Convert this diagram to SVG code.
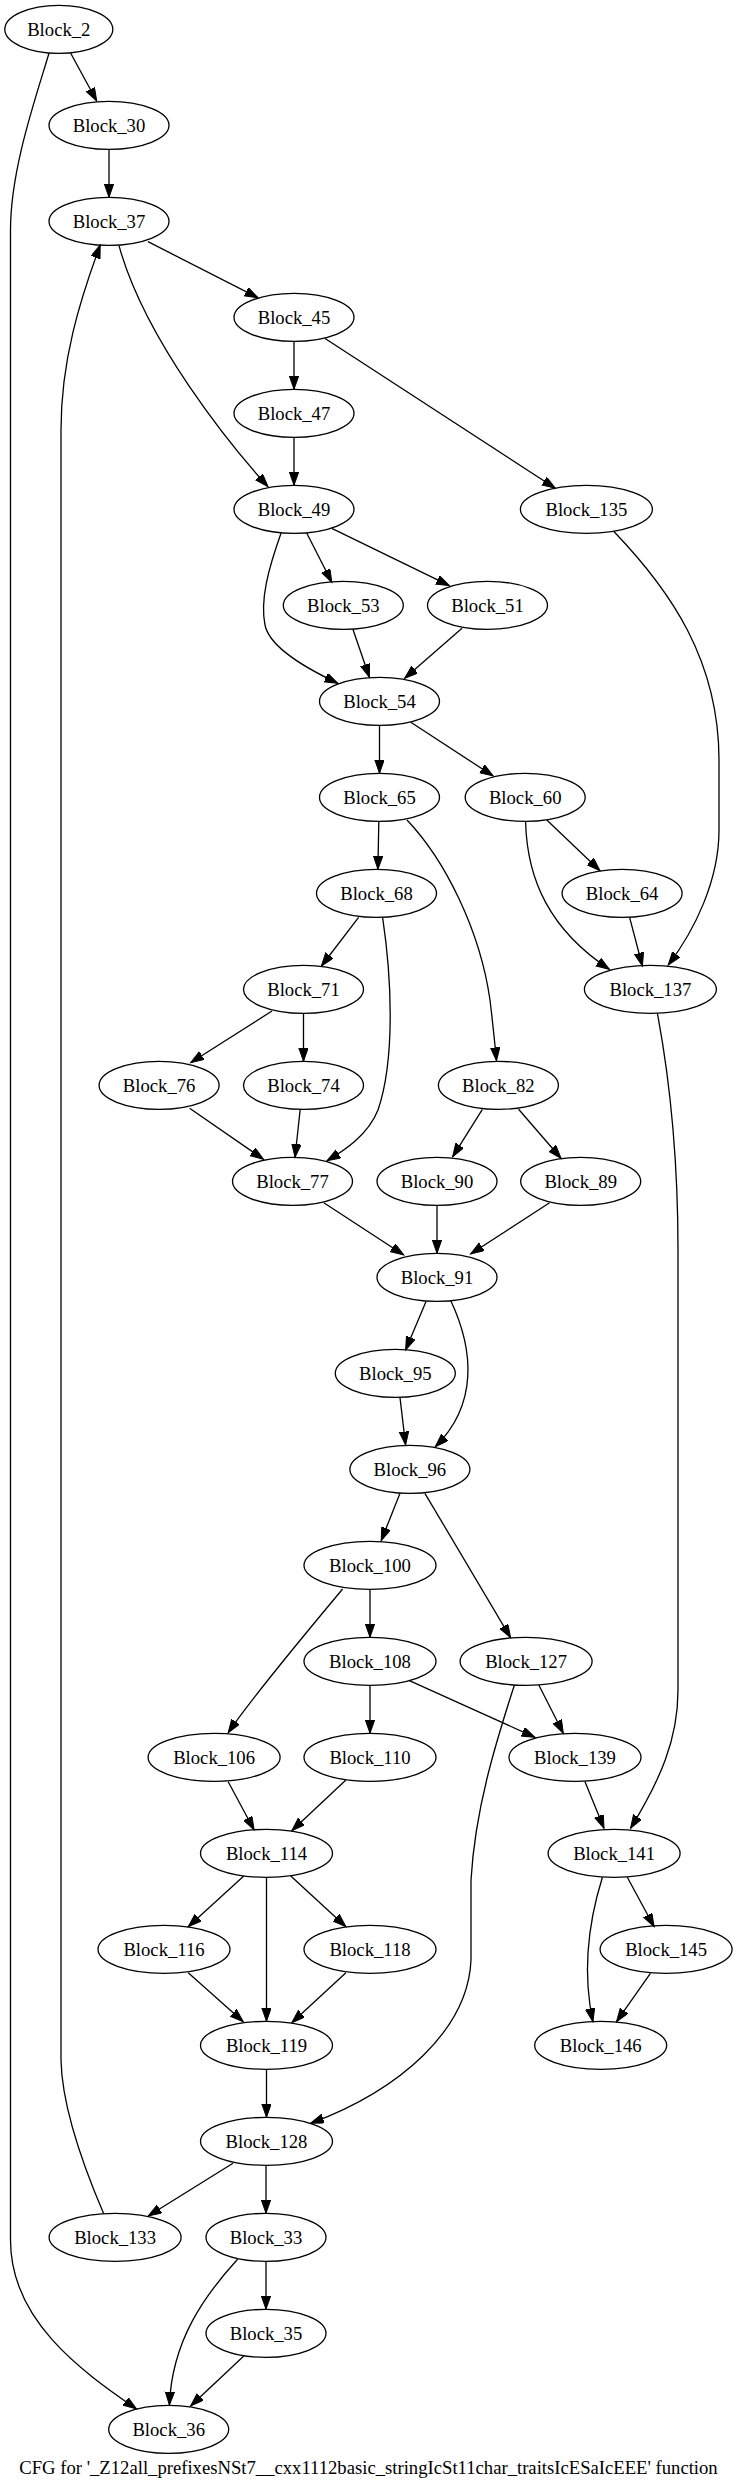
<svg xmlns="http://www.w3.org/2000/svg" width="737" height="2489" viewBox="0 0 737 2489">
<style>
.n ellipse{fill:none;stroke:#000;stroke-width:1.3}
.n text{font-family:"Liberation Serif","Times New Roman",serif;font-size:18.67px;text-anchor:middle;fill:#000}
#edges path{fill:none;stroke:#000;stroke-width:1.3;marker-end:url(#ah)}
.cap{font-family:"Liberation Serif","Times New Roman",serif;font-size:18.67px;text-anchor:middle;fill:#000}
</style>
<defs>
<marker id="ah" markerUnits="userSpaceOnUse" markerWidth="16" markerHeight="12" refX="13.3" refY="4.67" orient="auto">
<path d="M0,0 L13.3,4.67 L0,9.33 z" fill="#000" stroke="#000" stroke-width="1"/>
</marker>
</defs>
<rect width="737" height="2489" fill="#fff"/>
<g id="edges">
<path d="M70.7,53.3 L96.7,101"/>
<path d="M49,53.3 C35,100 10.5,170 10.5,230 L10.5,2240 C10.5,2320 80,2370 136.5,2409"/>
<path d="M109,149.3 L109,197.3"/>
<path d="M148,241.7 L258,297.7"/>
<path d="M119,245.7 C145,340 230,445 268,486.7"/>
<path d="M294,341.3 L294,389.3"/>
<path d="M324.7,338.3 L555.3,488.3"/>
<path d="M294,437.3 L294,485.3"/>
<path d="M306.8,533.3 L331.8,582.3"/>
<path d="M331.8,528.3 L449.4,585.7"/>
<path d="M281,533.3 C268,570 260,600 265,625 C270,650 316,673 337.9,683.3"/>
<path d="M352.9,629.3 L369.4,677.3"/>
<path d="M462,628.3 L404.7,678.3"/>
<path d="M379.5,725.3 L379.5,773.3"/>
<path d="M410.8,722.3 L493.2,776"/>
<path d="M614.1,531.7 C670,590 719,660 719,760 L719,830 C719,880 695,930 668.2,965"/>
<path d="M378.8,821.7 L377.9,869.3"/>
<path d="M407,820 C445,860 480,930 490,1000 C493,1025 495,1045 496.5,1060.7"/>
<path d="M546.8,820 L600,870.7"/>
<path d="M525.6,821.7 C527,880 550,930 609.4,969.3"/>
<path d="M629.6,917.3 L642.4,966"/>
<path d="M358.6,917.3 L321.4,966"/>
<path d="M382.6,917.3 C392,980 395,1060 378,1110 C368,1135 345,1150 327,1160.7"/>
<path d="M272,1011 L190.6,1062.7"/>
<path d="M303.5,1013.3 L303.5,1061.3"/>
<path d="M189.6,1108.3 L263.5,1159.3"/>
<path d="M300.2,1109.3 L295,1157.3"/>
<path d="M482.4,1109.3 L452.7,1156.7"/>
<path d="M518.6,1109.3 L561,1158.3"/>
<path d="M657.4,1013.3 C668,1070 678,1150 678,1250 L678,1690 C678,1740 660,1780 630.6,1828.3"/>
<path d="M323.8,1202.7 L403.8,1255"/>
<path d="M437,1205.3 L437,1253.3"/>
<path d="M549.6,1202.7 L470.6,1254"/>
<path d="M425.9,1301.7 L405.6,1350"/>
<path d="M450.8,1300.7 C474,1350 478,1405 435.3,1446.7"/>
<path d="M400,1397.7 L405.6,1445"/>
<path d="M400,1493.3 L381.2,1540.7"/>
<path d="M424.9,1493.3 L510.6,1637.7"/>
<path d="M370,1589.3 L370,1637.3"/>
<path d="M342.6,1589 C300,1640 250,1700 228.2,1732.7"/>
<path d="M370,1685.3 L370,1733.3"/>
<path d="M409.4,1680.7 L535,1737.3"/>
<path d="M538.8,1685 L563.3,1733.3"/>
<path d="M514.4,1685 C495,1745 475,1810 471,1880 L471,1960 C468,2030 400,2090 310.6,2123.3"/>
<path d="M228.2,1781.7 L254.1,1830"/>
<path d="M345.9,1780 L291.8,1830.7"/>
<path d="M585,1781.7 L604,1828.3"/>
<path d="M243.8,1876 L188.2,1926.7"/>
<path d="M266.5,1877.3 L266.5,2021.3"/>
<path d="M290.8,1876 L345.9,1926.7"/>
<path d="M627.3,1877.3 L654.1,1926.7"/>
<path d="M602.4,1877.3 C586,1930 584,1980 592.9,2021.7"/>
<path d="M188.2,1972.7 L243.3,2021.7"/>
<path d="M345.9,1972.7 L291.8,2022.7"/>
<path d="M650.4,1973.3 L616.5,2021.7"/>
<path d="M266.5,2069.3 L266.5,2117.3"/>
<path d="M233,2163.3 L148.2,2216"/>
<path d="M266,2165.3 L266,2213.3"/>
<path d="M103.5,2213.3 C85,2170 62,2110 61,2060 L61,430 C61,360 80,300 100.2,245"/>
<path d="M237.6,2259.3 C205,2295 172,2340 169.4,2405"/>
<path d="M266,2261.3 L266,2309.3"/>
<path d="M243.8,2356 L190.6,2406"/>
</g>
<g id="Block_2" class="n"><ellipse cx="58.8" cy="29.33" rx="54" ry="24"/><text x="58.8" y="35.5">Block_2</text></g>
<g id="Block_30" class="n"><ellipse cx="109" cy="125.33" rx="60" ry="24"/><text x="109" y="131.5">Block_30</text></g>
<g id="Block_37" class="n"><ellipse cx="109" cy="221.33" rx="60" ry="24"/><text x="109" y="227.5">Block_37</text></g>
<g id="Block_45" class="n"><ellipse cx="294" cy="317.33" rx="60" ry="24"/><text x="294" y="323.5">Block_45</text></g>
<g id="Block_47" class="n"><ellipse cx="294" cy="413.33" rx="60" ry="24"/><text x="294" y="419.5">Block_47</text></g>
<g id="Block_49" class="n"><ellipse cx="294" cy="509.33" rx="60" ry="24"/><text x="294" y="515.5">Block_49</text></g>
<g id="Block_135" class="n"><ellipse cx="586.4" cy="509.33" rx="66" ry="24"/><text x="586.4" y="515.5">Block_135</text></g>
<g id="Block_53" class="n"><ellipse cx="343.3" cy="605.33" rx="60" ry="24"/><text x="343.3" y="611.5">Block_53</text></g>
<g id="Block_51" class="n"><ellipse cx="487.5" cy="605.33" rx="60" ry="24"/><text x="487.5" y="611.5">Block_51</text></g>
<g id="Block_54" class="n"><ellipse cx="379.5" cy="701.33" rx="60" ry="24"/><text x="379.5" y="707.5">Block_54</text></g>
<g id="Block_65" class="n"><ellipse cx="379.5" cy="797.33" rx="60" ry="24"/><text x="379.5" y="803.5">Block_65</text></g>
<g id="Block_60" class="n"><ellipse cx="525.2" cy="797.33" rx="60" ry="24"/><text x="525.2" y="803.5">Block_60</text></g>
<g id="Block_68" class="n"><ellipse cx="376.5" cy="893.33" rx="60" ry="24"/><text x="376.5" y="899.5">Block_68</text></g>
<g id="Block_64" class="n"><ellipse cx="622.1" cy="893.33" rx="60" ry="24"/><text x="622.1" y="899.5">Block_64</text></g>
<g id="Block_71" class="n"><ellipse cx="303.5" cy="989.33" rx="60" ry="24"/><text x="303.5" y="995.5">Block_71</text></g>
<g id="Block_137" class="n"><ellipse cx="650.4" cy="989.33" rx="66" ry="24"/><text x="650.4" y="995.5">Block_137</text></g>
<g id="Block_76" class="n"><ellipse cx="159.1" cy="1085.33" rx="60" ry="24"/><text x="159.1" y="1091.5">Block_76</text></g>
<g id="Block_74" class="n"><ellipse cx="303.5" cy="1085.33" rx="60" ry="24"/><text x="303.5" y="1091.5">Block_74</text></g>
<g id="Block_82" class="n"><ellipse cx="498.4" cy="1085.33" rx="60" ry="24"/><text x="498.4" y="1091.5">Block_82</text></g>
<g id="Block_77" class="n"><ellipse cx="292.5" cy="1181.33" rx="60" ry="24"/><text x="292.5" y="1187.5">Block_77</text></g>
<g id="Block_90" class="n"><ellipse cx="437" cy="1181.33" rx="60" ry="24"/><text x="437" y="1187.5">Block_90</text></g>
<g id="Block_89" class="n"><ellipse cx="580.7" cy="1181.33" rx="60" ry="24"/><text x="580.7" y="1187.5">Block_89</text></g>
<g id="Block_91" class="n"><ellipse cx="437" cy="1277.33" rx="60" ry="24"/><text x="437" y="1283.5">Block_91</text></g>
<g id="Block_95" class="n"><ellipse cx="395.3" cy="1373.33" rx="60" ry="24"/><text x="395.3" y="1379.5">Block_95</text></g>
<g id="Block_96" class="n"><ellipse cx="409.9" cy="1469.33" rx="60" ry="24"/><text x="409.9" y="1475.5">Block_96</text></g>
<g id="Block_100" class="n"><ellipse cx="370" cy="1565.33" rx="66" ry="24"/><text x="370" y="1571.5">Block_100</text></g>
<g id="Block_108" class="n"><ellipse cx="370" cy="1661.33" rx="66" ry="24"/><text x="370" y="1667.5">Block_108</text></g>
<g id="Block_127" class="n"><ellipse cx="526.1" cy="1661.33" rx="66" ry="24"/><text x="526.1" y="1667.5">Block_127</text></g>
<g id="Block_106" class="n"><ellipse cx="214.1" cy="1757.33" rx="66" ry="24"/><text x="214.1" y="1763.5">Block_106</text></g>
<g id="Block_110" class="n"><ellipse cx="370" cy="1757.33" rx="66" ry="24"/><text x="370" y="1763.5">Block_110</text></g>
<g id="Block_139" class="n"><ellipse cx="575" cy="1757.33" rx="66" ry="24"/><text x="575" y="1763.5">Block_139</text></g>
<g id="Block_114" class="n"><ellipse cx="266.5" cy="1853.33" rx="66" ry="24"/><text x="266.5" y="1859.5">Block_114</text></g>
<g id="Block_141" class="n"><ellipse cx="614.1" cy="1853.33" rx="66" ry="24"/><text x="614.1" y="1859.5">Block_141</text></g>
<g id="Block_116" class="n"><ellipse cx="164" cy="1949.33" rx="66" ry="24"/><text x="164" y="1955.5">Block_116</text></g>
<g id="Block_118" class="n"><ellipse cx="370" cy="1949.33" rx="66" ry="24"/><text x="370" y="1955.5">Block_118</text></g>
<g id="Block_145" class="n"><ellipse cx="666.1" cy="1949.33" rx="66" ry="24"/><text x="666.1" y="1955.5">Block_145</text></g>
<g id="Block_119" class="n"><ellipse cx="266.5" cy="2045.33" rx="66" ry="24"/><text x="266.5" y="2051.5">Block_119</text></g>
<g id="Block_146" class="n"><ellipse cx="600.7" cy="2045.33" rx="66" ry="24"/><text x="600.7" y="2051.5">Block_146</text></g>
<g id="Block_128" class="n"><ellipse cx="266.5" cy="2141.33" rx="66" ry="24"/><text x="266.5" y="2147.5">Block_128</text></g>
<g id="Block_133" class="n"><ellipse cx="115.1" cy="2237.33" rx="66" ry="24"/><text x="115.1" y="2243.5">Block_133</text></g>
<g id="Block_33" class="n"><ellipse cx="266" cy="2237.33" rx="60" ry="24"/><text x="266" y="2243.5">Block_33</text></g>
<g id="Block_35" class="n"><ellipse cx="266" cy="2333.33" rx="60" ry="24"/><text x="266" y="2339.5">Block_35</text></g>
<g id="Block_36" class="n"><ellipse cx="168.7" cy="2429.33" rx="60" ry="24"/><text x="168.7" y="2435.5">Block_36</text></g>
<text class="cap" x="368.5" y="2474">CFG for '_Z12all_prefixesNSt7__cxx1112basic_stringIcSt11char_traitsIcESaIcEEE' function</text>
</svg>
